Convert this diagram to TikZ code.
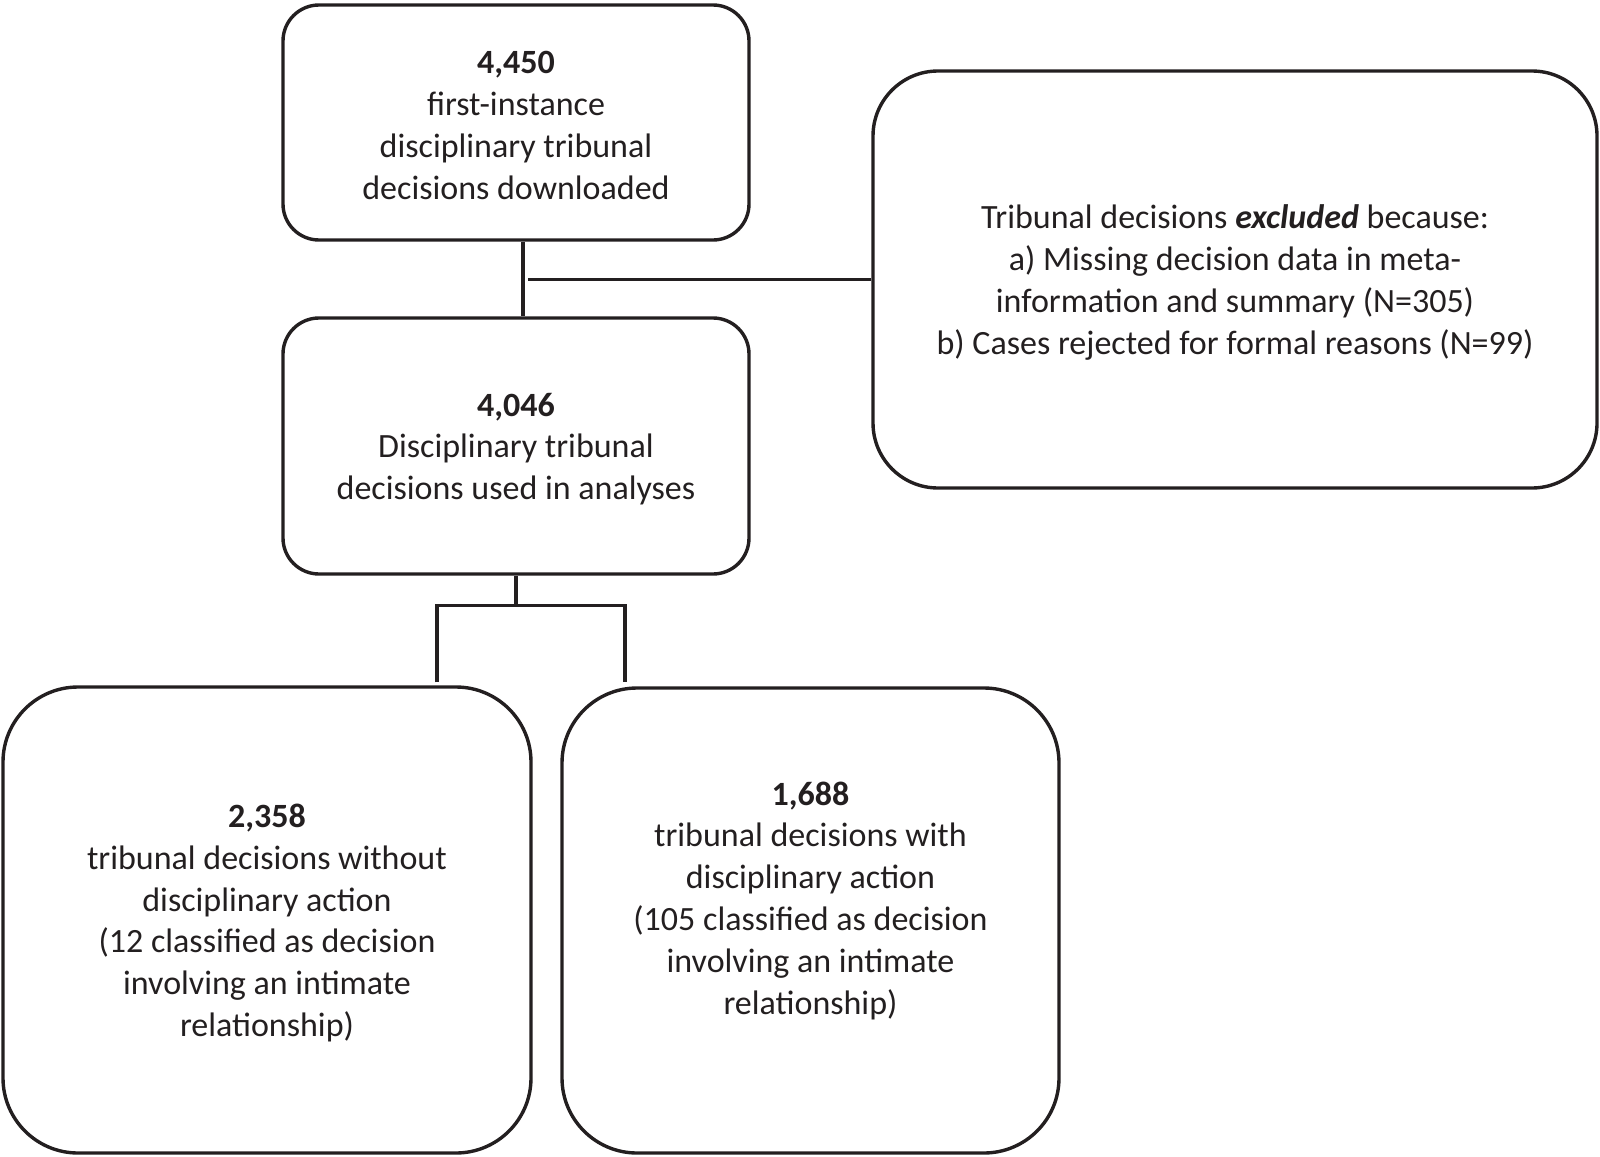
\documentclass[tikz,border=0pt]{standalone}
\usepackage{fontspec}
\setmainfont{Carlito}
\usetikzlibrary{calc}
\definecolor{ink}{HTML}{231F20}
\begin{document}
\begin{tikzpicture}[x=1pt,y=-1pt,
  box/.style={draw=ink, line width=3.4pt, inner sep=0pt},
  txt/.style={align=center, text=ink, font=\fontsize{34}{41.8}\selectfont, inner sep=0pt, yshift=-3pt},
  conn/.style={draw=ink, line width=3.4pt}]
\useasboundingbox (0,0) rectangle (1600,1156);
% boxes
\node[box, rounded corners=36pt, minimum width=466pt, minimum height=235pt] (b1) at (516,122.5) {};
\node[box, rounded corners=65pt, minimum width=724pt, minimum height=417pt] (b2) at (1235,279.5) {};
\node[box, rounded corners=36pt, minimum width=466pt, minimum height=256pt] (b3) at (516,446) {};
\node[box, rounded corners=75pt, minimum width=528pt, minimum height=466pt] (b4) at (267,920) {};
\node[box, rounded corners=75pt, minimum width=497pt, minimum height=465pt] (b5) at (810.5,920.5) {};
% texts
\node[txt] (t1) at (b1.center) {\textbf{4,450}\\first-instance\\disciplinary tribunal\\decisions downloaded};
\node[txt] (t2) at (b2.center) {Tribunal decisions \textbf{\textit{excluded}} because:\\a) Missing decision data in meta-\\information and summary (N=305)\\b) Cases rejected for formal reasons (N=99)};
\node[txt] (t3) at (b3.center) {\textbf{4,046}\\Disciplinary tribunal\\decisions used in analyses};
\node[txt] (t4) at (b4.center) {\textbf{2,358}\\tribunal decisions without\\disciplinary action\\(12 classified as decision\\involving an intimate\\relationship)};
\node[txt] (t5) at ($(b5.center)+(0,-23)$) {\textbf{1,688}\\tribunal decisions with\\disciplinary action\\(105 classified as decision\\involving an intimate\\relationship)};
% connectors
\draw[conn] ($(b1.south)+(7,0)$) -- ($(b3.north)+(7,0)$);
\coordinate (hx) at ($(b2.west)+(-343,0)$);
\draw[conn] (b2.west) -- (hx);
\coordinate (j) at ($(b3.south)+(0,30)$);
\coordinate (jl) at ($(j)+(-79,0)$);
\coordinate (jr) at ($(j)+(109,0)$);
\draw[conn] (b3.south) -- (j);
\draw[conn] ($(b4.north -| jl)+(0,-3)$) -- (jl) -- (jr) -- ($(b5.north -| jr)+(0,-4)$);
\end{tikzpicture}
\end{document}
